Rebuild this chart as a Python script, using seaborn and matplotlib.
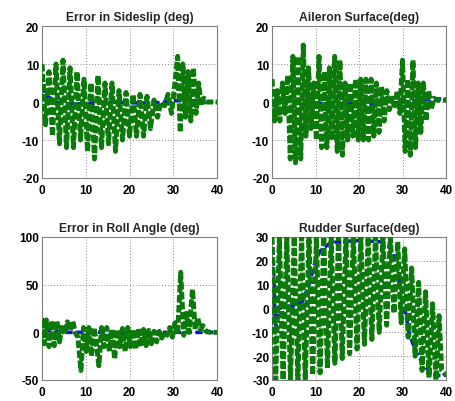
import matplotlib
matplotlib.use("Agg")
import matplotlib.pyplot as plt
import seaborn as sns
import pandas as pd

sns.set_theme(style="white")
plt.rcParams['font.family'] = ['Liberation Sans', 'DejaVu Sans']
plt.rcParams['font.weight'] = 'bold'

# ---- Data ----
# Error in Sideslip (deg)
ss_t = [0, 0.8, 1.6, 2.4, 3.2, 4.0, 4.8, 5.6, 6.4, 7.2, 8.0, 8.8, 9.6, 10.4, 11.2, 12.0,
        12.8, 13.6, 14.4, 15.2, 16.0, 16.8, 17.6, 18.4, 19.2, 20.0, 20.8, 21.6, 22.4, 23.2,
        24.0, 24.8, 25.6, 26.4, 27.2, 28.0, 28.8, 29.6, 30.4, 31.0, 31.6, 32.2, 32.8, 33.4,
        34.0, 34.6, 35.2, 35.8, 36.4, 37.0, 37.6, 40.0]
ss_g = [10, -6, 8, -9, 10, -11, 11, -12, 9, -12, 8, -10, 6, -13, 5, -15,
        7, -12, 5, -11, 5, -13, 3, -10, 2.5, -9, 2, -9, 2, -9,
        1.5, -7, 0.5, -4, 0, -1, 2, -3, 5, 12, -8, 10, -4, 8,
        -5, 9, -3, 5, -1, 1, 0, 0]
ss_bt = [0, 0.5, 1, 2, 3, 5, 10, 15, 20, 25, 28, 30, 33, 36, 37, 40]
ss_b = [10, 3, 1.5, 1, 0, -0.5, -0.5, 0, -0.2, -0.3, 0, 0.3, 0.5, 0.3, 0, 0]

# Aileron Surface (deg)
ai_t = [0, 0.6, 1.2, 1.8, 2.4, 3.0, 3.6, 4.2, 4.8, 5.4, 6.0, 6.6, 7.2, 7.8, 8.4, 9.0,
        9.6, 10.2, 10.8, 11.4, 12.0, 12.6, 13.2, 13.8, 14.4, 15.0, 15.6, 16.2, 16.8, 17.4,
        18.0, 18.6, 19.2, 19.8, 20.4, 21.0, 21.6, 22.2, 22.8, 23.4, 24.0, 24.6, 25.2, 25.8,
        26.4, 27.0, 27.6, 28.2, 28.8, 29.4, 30.0, 30.6, 31.2, 31.8, 32.4, 33.0, 33.6, 34.2,
        34.8, 35.4, 36.0, 36.6, 37.2, 38.0, 40.0]
ai_g = [6, -5, 3, -5, 5, -3, 7, -15, 12, -16, 12, -15, 15, -9, 9, -7,
        5, -10, 12, -12, 8, -12, 9, -10, 12, -13, 11, -14, 5, -10,
        5, -9, 6, -10, 6, -10, 6, -10, 6, -9, 5, -8, 4, -5,
        3, -2, 1, -1, 3, -3, 11, -13, 6, -14, 11, -12, 5, -8,
        5, -5, 3, -2, 1, 0.5, 0.5]
ai_bt = [0, 5, 10, 15, 20, 25, 30, 35, 37, 40]
ai_b = [0, 0.3, -0.5, -0.5, -0.5, -0.5, 0, 0.5, 0.8, 0.8]

# Error in Roll Angle (deg)
ro_t = [0, 0.5, 1.0, 1.6, 2.2, 2.8, 3.4, 4.0, 4.6, 5.2, 5.8, 6.4, 7.0, 7.6, 8.2, 8.9,
        9.5, 10.1, 10.7, 11.3, 11.9, 12.5, 13.0, 13.6, 14.2, 14.8, 15.4, 16.0, 16.6, 17.2,
        17.8, 18.4, 19.0, 19.6, 20.2, 20.8, 21.4, 22.0, 22.6, 23.2, 23.8, 24.4, 25.0, 25.6,
        26.2, 26.8, 27.4, 28.0, 28.6, 29.2, 29.8, 30.4, 31.0, 31.7, 32.4, 33.0, 33.6, 34.4,
        35.0, 35.6, 36.2, 36.8, 37.5, 38.5, 40.0]
ro_g = [12, -12, 13, -15, 12, -14, 12, -10, 8, -2, 11, 2, 12, 0, -5, -40,
        5, -20, 5, -25, 5, -15, -35, 5, -15, 5, -20, 3, -28, 3,
        -15, 4, -20, 5, -15, 3, -18, 4, -15, 3, -14, 2, -12, 1,
        -10, 1, -6, 1, -3, 5, -5, 10, -2, 63, -3, 20, 0, 45,
        3, 15, 3, 7, 1, 0, 0]
ro_bt = [0, 0.5, 1, 3, 5, 40]
ro_b = [15, 5, 2, 1, 0, 0]

# Rudder Surface (deg)
ru_t = [0, 0.85, 1.7, 2.55, 3.4, 4.25, 5.1, 5.95, 6.8, 7.65, 8.5, 9.35, 10.2, 11.05,
        11.9, 12.75, 13.6, 14.45, 15.3, 16.15, 17.0, 17.85, 18.7, 19.55, 20.4, 21.25,
        22.1, 22.95, 23.8, 24.65, 25.5, 26.35, 27.2, 28.05, 28.9, 29.7, 30.5, 31.3,
        32.1, 32.9, 33.7, 34.5, 35.3, 36.1, 36.9, 37.7, 38.4, 39.0, 40.0]
ru_g = [30, -30, 30, -30, 30, -30, 30, -30, 30, -30, 30, -28, 30, -27,
        30, -25, 30, -23, 30, -21, 30, -19, 30, -17, 30, -15,
        30, -13, 30, -10, 30, -7, 30, -2, 28, -6, 25, -12,
        17, -20, 11, -26, 7, -29, 2, -30, -3, -26, -28]
ru_bt = [0, 0.3, 0.6, 0.9, 1.5, 3, 5, 7, 8.5, 10, 11, 13, 15, 20, 25, 27, 28.5,
         30, 31.5, 33, 35, 37, 40]
ru_b = [30, 20, 0, -8, 0, 1, 1, 3, 10, 20, 24, 27, 28, 28.5, 28, 26, 20,
        5, -10, -18, -24, -28, -28]

titles = ["Error in Sideslip (deg)", "Aileron Surface(deg)",
          "Error in Roll Angle (deg)", "Rudder Surface(deg)"]
yticks = [[-20, -10, 0, 10, 20], [-20, -10, 0, 10, 20],
          [-50, 0, 50, 100], [-30, -20, -10, 0, 10, 20, 30]]
xticks = [0, 10, 20, 30, 40]

series = [(ss_t, ss_g, ss_bt, ss_b), (ai_t, ai_g, ai_bt, ai_b),
          (ro_t, ro_g, ro_bt, ro_b), (ru_t, ru_g, ru_bt, ru_b)]

fig = plt.figure(figsize=(4.55, 4.02), dpi=100)
rects = [[42/455, 1-179/402, 175/455, 152/402],
         [272/455, 1-179/402, 174/455, 152/402],
         [42/455, 1-381/402, 175/455, 143/402],
         [272/455, 1-381/402, 174/455, 143/402]]

GREEN = '#0b7a0b'
BLUE = '#1010e0'

for i, (gt, gv, bt, bv) in enumerate(series):
    ax = fig.add_axes(rects[i])
    dfb = pd.DataFrame({"t": bt, "v": bv})
    dfg = pd.DataFrame({"t": gt, "v": gv})
    sns.lineplot(data=dfb, x="t", y="v", ax=ax, color=BLUE, lw=2.6,
                 linestyle=(0, (2.0, 1.0)), sort=False, estimator=None, zorder=2)
    sns.lineplot(data=dfg, x="t", y="v", ax=ax, color=GREEN, lw=3.6,
                 linestyle=(0, (1.5, 0.5)), sort=False, estimator=None, zorder=3)
    ax.set_xlim(0, 40)
    ax.set_ylim(yticks[i][0], yticks[i][-1])
    ax.set_xticks(xticks)
    ax.set_yticks(yticks[i])
    ax.set_xticklabels([str(v) for v in xticks], fontsize=8.5, fontweight='bold')
    ax.set_yticklabels([str(v) for v in yticks[i]], fontsize=8.5, fontweight='bold')
    ax.set_xlabel("")
    ax.set_ylabel("")
    ax.set_title(titles[i], fontsize=8.7, fontweight='bold', pad=4)
    ax.grid(True, linestyle=(0, (1, 2)), color='#888888', linewidth=0.7)
    ax.tick_params(axis='y', direction='in', length=2.5, width=0.6, pad=2, colors='black')
    ax.tick_params(axis='x', direction='in', length=2.5, width=0.6, pad=4, colors='black')
    for s in ax.spines.values():
        s.set_color('#808080')
        s.set_linewidth(0.8)
    ax.set_facecolor('white')

fig.savefig("out.png", dpi=100)
